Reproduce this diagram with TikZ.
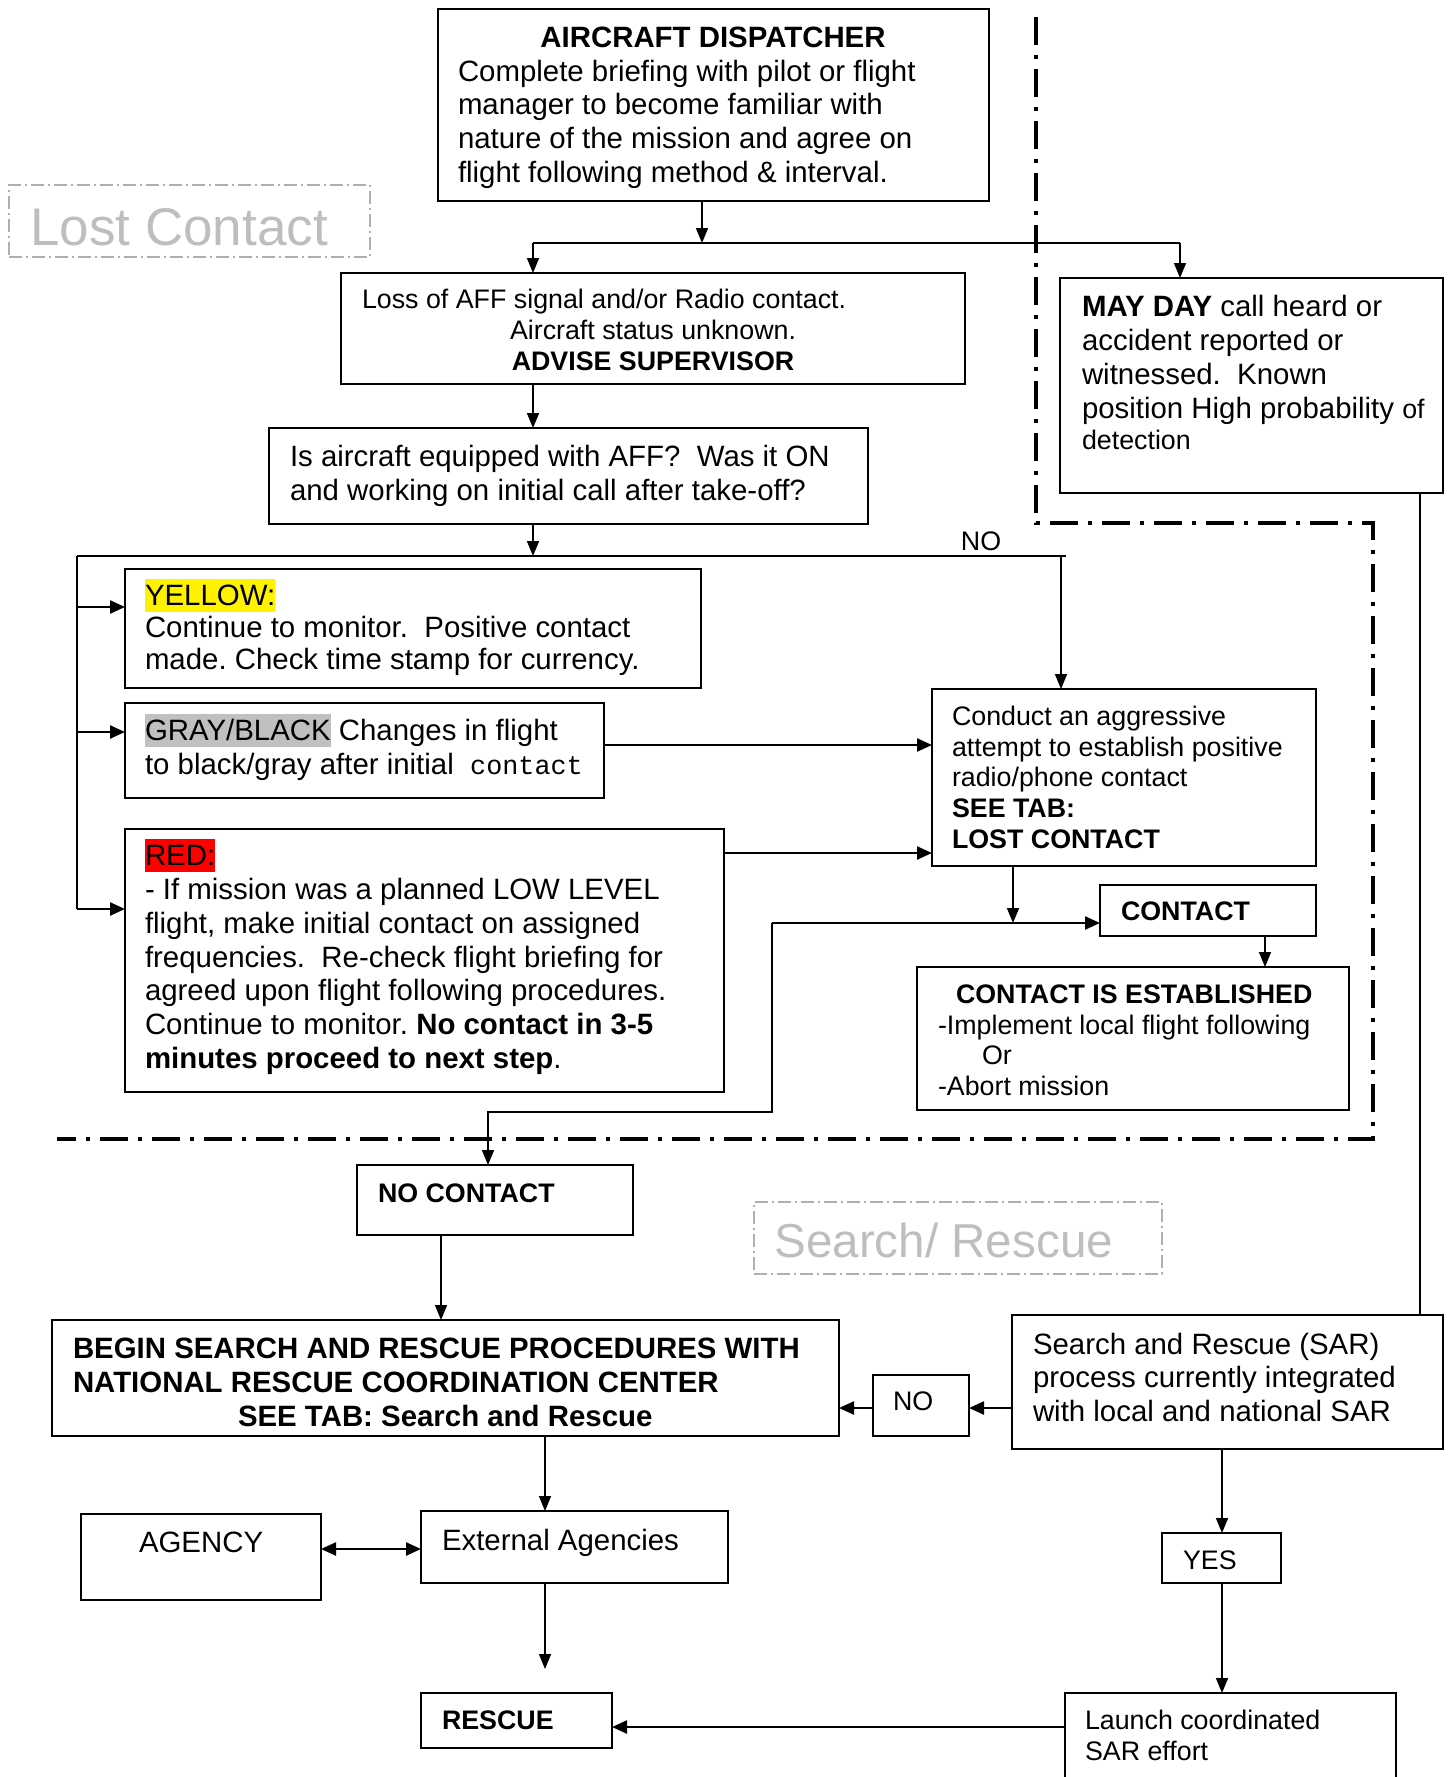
\documentclass[tikz,border=0pt]{standalone}
\usepackage{fontspec}
\setmainfont{Liberation Sans}
\setmonofont{Liberation Mono}
\usetikzlibrary{arrows.meta}

% type sizes used in the chart
\newcommand\txtA{\fontsize{14.7pt}{16.9pt}\selectfont\frenchspacing}
\newcommand\txtB{\fontsize{13.4pt}{15.4pt}\selectfont\frenchspacing}
% highlighted word (does not change the line height)
\newcommand\hlword[2]{\smash{{\setlength{\fboxsep}{0pt}\colorbox{#1}{\rule[-0.22em]{0pt}{1.13em}#2}}}}

\definecolor{hlgray}{RGB}{192,192,192}
\definecolor{wmgray}{RGB}{190,190,190}
\definecolor{wmline}{RGB}{175,175,175}

\tikzset{
  x=0.5pt, y=-0.5pt,
  box/.style={draw, line width=1.2pt, inner sep=0pt, outer sep=0pt, anchor=north west},
  txt/.style={inner sep=0pt, outer sep=0pt, anchor=north west, align=left},
  fA/.style={font=\txtA},
  fB/.style={font=\txtB},
  conn/.style={line width=0.8pt, -{Triangle[length=7.5pt,width=6pt]}},
  thick conn/.style={line width=1.2pt, -{Triangle[length=7.5pt,width=6.5pt]}},
  plain conn/.style={line width=0.8pt},
  border/.style={line width=2pt, dash pattern=on 14pt off 5pt on 2pt off 5pt},
  wmbox/.style={draw=wmline, line width=0.6pt, dash pattern=on 6.5pt off 2pt on 1pt off 2pt,
    inner sep=0pt, outer sep=0pt, anchor=north west},
}

% box from its corners (x1,y1) to (x2,y2)
\newcommand\flowbox[5]{\node[box, minimum width={(#4-#2)*0.5pt}, minimum height={(#5-#3)*0.5pt}] (#1) at (#2,#3) {};}
% text blocks whose first line is centred on height #3
\newcommand\textA[4]{\node[txt,fA] (#1) at (#2,{#3-13}) {\strut #4};}
\newcommand\textB[4]{\node[txt,fB] (#1) at (#2,{#3-12.3}) {\strut #4};}

\begin{document}
\begin{tikzpicture}
\useasboundingbox (0,0) rectangle (1450,1777);

% ---------- boxes ----------
\flowbox{disp}{438}{9}{989}{201}
\flowbox{loss}{341}{273}{965}{384}
\flowbox{mayday}{1060}{278}{1443}{493}
\flowbox{isaff}{269}{428}{868}{524}
\flowbox{yellow}{125}{569}{701}{688}
\flowbox{gray}{125}{703}{604}{798}
\flowbox{red}{125}{829}{724}{1092}
\flowbox{conduct}{932}{689}{1316}{866}
\flowbox{contact}{1100}{885}{1316}{936}
\flowbox{est}{917}{967}{1349}{1110}
\flowbox{nocontact}{357}{1165}{633}{1235}
\flowbox{begin}{52}{1320}{839}{1436}
\flowbox{sar}{1012}{1315}{1443}{1449}
\flowbox{nobox}{873}{1375}{969}{1436}
\flowbox{agency}{81}{1514}{321}{1600}
\flowbox{ext}{421}{1511}{728}{1583}
\flowbox{rescue}{421}{1693}{612}{1748}
\flowbox{yes}{1162}{1533}{1281}{1583}
\flowbox{launch}{1065}{1693}{1396}{1810}

% ---------- section labels ----------
\node[wmbox, minimum width=180.5pt, minimum height=36pt] (lostbox) at (9,185) {};
\node[anchor=west, inner sep=0pt, text=wmgray, font=\fontsize{26.5pt}{30pt}\selectfont] (losttxt) at (30,227) {Lost Contact};
\node[wmbox, minimum width=204pt, minimum height=36pt] (srbox) at (754,1202) {};
\node[anchor=west, inner sep=0pt, text=wmgray, font=\fontsize{23.8pt}{27pt}\selectfont] (srtxt) at (774,1240) {Search/ Rescue};

% ---------- texts ----------
\node[fA, font=\txtA\bfseries, inner sep=0pt] (disptitle) at (713,37) {AIRCRAFT DISPATCHER};
\textA{dispbody}{458}{70.5}{Complete briefing with pilot or flight\\manager to become familiar with\\nature of the mission and agree on\\flight following method \& interval.}
\textB{lossa}{362}{299}{Loss of AFF signal and/or Radio contact.}
\node[txt, fB, anchor=north, align=center] (lossb) at (653,{330-12.3}) {\strut Aircraft status unknown.\\\textbf{ADVISE SUPERVISOR}};
\node[txt, fA] (maydaytxt) at (1082,{306-13}) {\strut\textbf{MAY DAY} call heard or\\accident reported or\\witnessed.\ \ Known\\position High probability {\txtB of}\\[-1pt]{\txtB detection}};
\textA{isafftxt}{290}{456}{Is aircraft equipped with AFF?\ \ Was it ON\\and working on initial call after take-off?}
\node[fB, inner sep=0pt] (nolabel) at (981,541) {NO};
\textA{yellowtxt}{145}{595}{\hlword{yellow}{YELLOW:}\\[-1pt]Continue to monitor.\ \ Positive contact\\[-1pt]made. Check time stamp for currency.}
\textA{graytxt}{145}{730}{\hlword{hlgray}{GRAY/BLACK} Changes in flight\\to black/gray after initial\ \ {\txtB\ttfamily contact}}
\textA{redtxt}{145}{855}{\hlword{red}{RED:}\\- If mission was a planned LOW LEVEL\\flight, make initial contact on assigned\\frequencies.\ \ Re-check flight briefing for\\agreed upon flight following procedures.\\Continue to monitor. \textbf{No contact in 3-5}\\\textbf{minutes proceed to next step}.}
\textB{conducttxt}{952}{716}{Conduct an aggressive\\attempt to establish positive\\radio/phone contact\\\textbf{SEE TAB:}\\\textbf{LOST CONTACT}}
\textB{contacttxt}{1121}{911}{\textbf{CONTACT}}
\textB{esttxt}{938}{994}{\hspace*{9pt}\textbf{CONTACT IS ESTABLISHED}\\-Implement local flight following\\\hspace*{22pt}Or\\-Abort mission}
\textB{nocontacttxt}{378}{1193}{\textbf{NO CONTACT}}
\textA{begintxt}{73}{1348}{\textbf{BEGIN SEARCH AND RESCUE PROCEDURES WITH}\\\textbf{NATIONAL RESCUE COORDINATION CENTER}\\\hspace*{82.5pt}\textbf{SEE TAB: Search and Rescue}}
\textA{sartxt}{1033}{1343.5}{Search and Rescue (SAR)\\process currently integrated\\with local and national SAR}
\textB{notxt}{893}{1401}{NO}
\textA{agencytxt}{139}{1542}{AGENCY}
\textA{exttxt}{442}{1540}{External Agencies}
\textB{rescuetxt}{442}{1720}{\textbf{RESCUE}}
\textB{yestxt}{1183}{1560}{YES}
\textB{launchtxt}{1085}{1720}{Launch coordinated\\SAR effort}

% ---------- boundary of the lost-contact area ----------
\draw[border] (1036,17) -- (1036,523) -- (1373,523) -- (1373,1139) -- (57,1139);

% ---------- junction points ----------
\coordinate (j1) at (702,243);
\coordinate (j2) at (533,556);
\coordinate (jl) at (77,556);
\coordinate (jr) at (1061,556);
\coordinate (j3) at (772,923);
\coordinate (j4) at (772,1112);
\coordinate (j5) at (488,1112);
\coordinate (extend) at (545,1669);

% ---------- connectors ----------
\draw[conn] (disp.south -| j1) -- (j1);
\draw[plain conn] (533,243) -- (1180,243);
\draw[conn] (533,243) -- (loss.north -| 533,0);
\draw[conn] (1180,243) -- (mayday.north -| 1180,0);
\draw[conn] (loss.south -| j2) -- (isaff.north -| j2);
\draw[conn] (isaff.south -| j2) -- (j2);
\draw[plain conn] (jl) -- (1066,556);
\draw[conn] (jr) -- (conduct.north -| jr);
\draw[plain conn] (jl) -- (77,909);
\draw[thick conn] (77,607) -- (yellow.west |- 0,607);
\draw[thick conn] (77,732) -- (gray.west |- 0,732);
\draw[thick conn] (77,909) -- (red.west |- 0,909);
\draw[thick conn] (gray.east |- 0,745) -- (conduct.west |- 0,745);
\draw[thick conn] (red.east |- 0,853) -- (conduct.west |- 0,853);
\draw[conn] (conduct.south -| 1013,0) -- (1013,923);
\draw[thick conn] (j3) -- (contact.west |- j3);
\draw[conn] (contact.south -| 1265,0) -- (est.north -| 1265,0);
\draw[conn] (j3) -- (j4) -- (j5) -- (nocontact.north -| j5);
\draw[conn] (nocontact.south -| 441,0) -- (begin.north -| 441,0);
\draw[plain conn] (mayday.south -| 1420,0) -- (sar.north -| 1420,0);
\draw[thick conn] (sar.west |- 0,1408) -- (nobox.east |- 0,1408);
\draw[thick conn] (nobox.west |- 0,1408) -- (begin.east |- 0,1408);
\draw[conn] (begin.south -| 545,0) -- (ext.north -| 545,0);
\draw[line width=1.2pt, {Triangle[length=7.5pt,width=6.5pt]}-{Triangle[length=7.5pt,width=6.5pt]}] (agency.east |- 0,1549) -- (ext.west |- 0,1549);
\draw[conn] (ext.south -| extend) -- (extend);
\draw[conn] (sar.south -| 1222,0) -- (yes.north -| 1222,0);
\draw[conn] (yes.south -| 1222,0) -- (launch.north -| 1222,0);
\draw[thick conn] (launch.west |- 0,1727) -- (rescue.east |- 0,1727);
\end{tikzpicture}
\end{document}
